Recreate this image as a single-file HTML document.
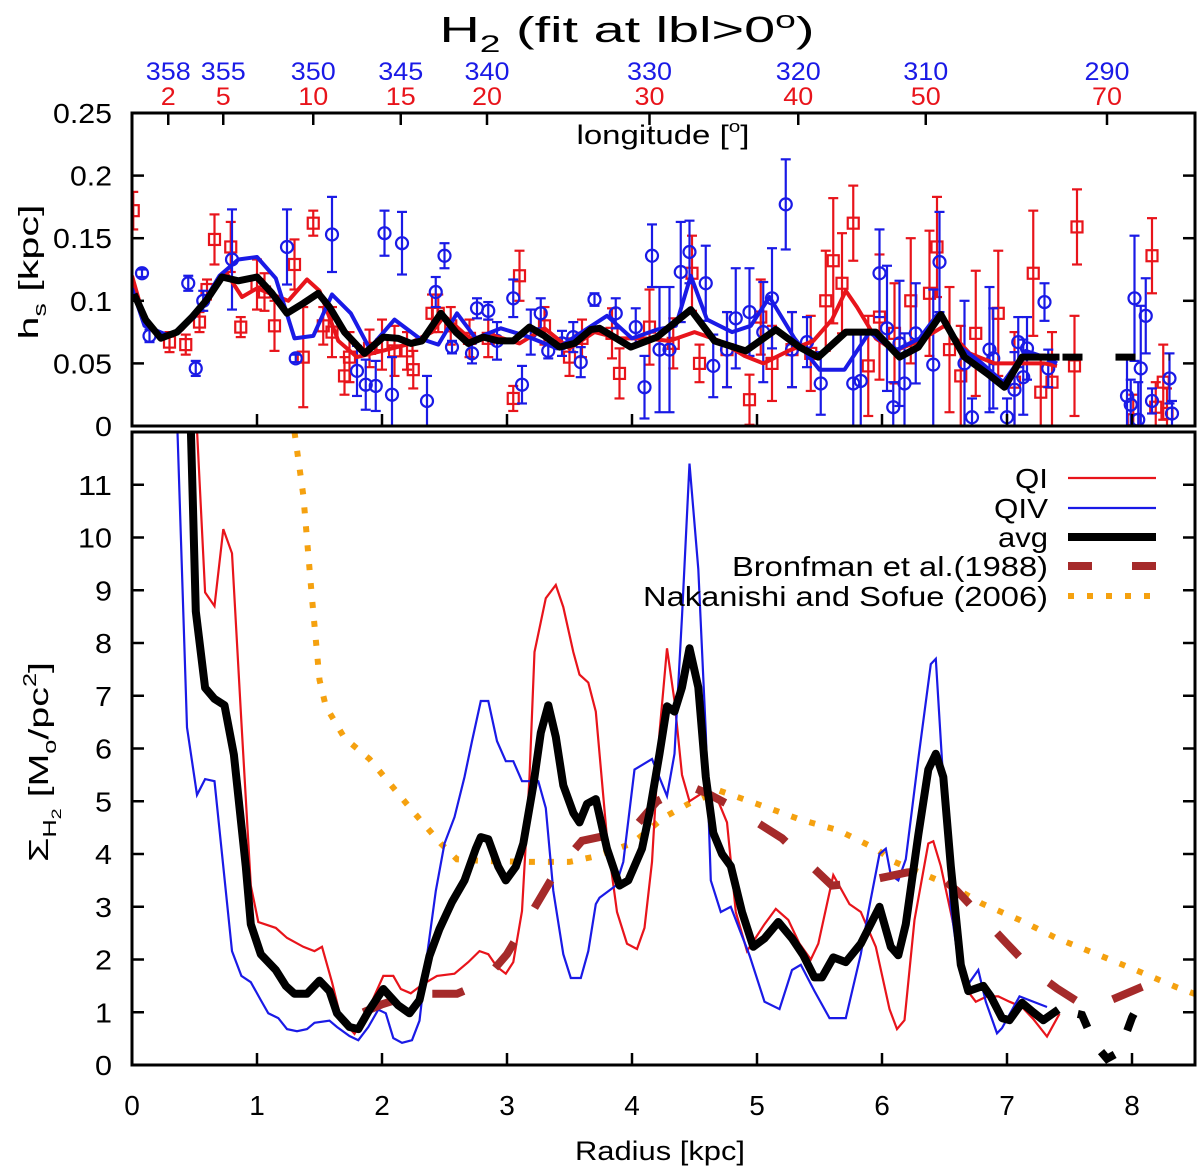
<!DOCTYPE html>
<html><head><meta charset="utf-8"><style>
html,body{margin:0;padding:0;background:#fff;}
svg{display:block;font-family:"Liberation Sans","DejaVu Sans",sans-serif;}
</style></head><body>
<svg id="chart" width="1200" height="1172" viewBox="0 0 1200 1172" xmlns="http://www.w3.org/2000/svg">
<text x="627" y="42" font-size="36" text-anchor="middle" textLength="375" lengthAdjust="spacingAndGlyphs">H<tspan font-size="24" dy="10">2</tspan><tspan dy="-10"> (fit at lbl&gt;0</tspan><tspan font-size="24" dy="-14">o</tspan><tspan dy="14">)</tspan></text>
<text x="663" y="144" font-size="27" text-anchor="middle" textLength="173" lengthAdjust="spacingAndGlyphs">longitude [<tspan font-size="17" dy="-12">o</tspan><tspan dy="12">]</tspan></text>
<text x="660" y="1160" font-size="27" text-anchor="middle" textLength="170" lengthAdjust="spacingAndGlyphs">Radius [kpc]</text>
<text transform="translate(38,272) rotate(-90)" font-size="28" text-anchor="middle" textLength="135" lengthAdjust="spacingAndGlyphs">h<tspan font-size="18" dy="8">s</tspan><tspan dy="-8"> [kpc]</tspan></text>
<text transform="translate(48,762) rotate(-90)" font-size="28" text-anchor="middle" textLength="200" lengthAdjust="spacingAndGlyphs">Σ<tspan font-size="18" dy="8">H</tspan><tspan font-size="14" dy="5">2</tspan><tspan dy="-13"> [M</tspan><tspan font-size="18" dy="8">o</tspan><tspan dy="-8">/pc</tspan><tspan font-size="18" dy="-12">2</tspan><tspan dy="12">]</tspan></text>
<defs>
<clipPath id="clipTop"><rect x="132" y="113" width="1063" height="313"/></clipPath>
<clipPath id="clipBot"><rect x="132" y="432" width="1063" height="633"/></clipPath>
</defs>
<g id="topPanel"></g>
<g id="botPanel"></g>
</svg>
<script>
// ---- data ----
const lonTickR = [0.29, 0.73, 1.45, 2.15, 2.84, 4.14, 5.33, 6.35, 7.8];
const lonBlueLabels = ["358","355","350","345","340","330","320","310","290"];
const lonRedLabels = ["2","5","10","15","20","30","40","50","70"];
const topYTicks = [0, 0.05, 0.1, 0.15, 0.2, 0.25];
const topYLabels = ["0","0.05","0.1","0.15","0.2","0.25"];
const botYTicks = [0,1,2,3,4,5,6,7,8,9,10,11];
const xTicks = [0,1,2,3,4,5,6,7,8];

const redPts = [[0.01,.172,.015],[0.3,.067,.008],[0.43,.065,.008],[0.54,.083,.008],[0.6,.109,.008],[0.66,.149,.02],[0.79,.143,.02],[0.87,.079,.008],[1.0,.113,.02],[1.06,.107,.015],[1.14,.080,.02],[1.3,.129,.02],[1.37,.055,.04],[1.45,.162,.01],[1.53,.080,.015],[1.6,.075,.02],[1.7,.04,.015],[1.74,.055,.02],[1.9,.062,.015],[2.0,.065,.02],[2.1,.06,.02],[2.2,.06,.015],[2.25,.045,.015],[2.4,.09,.015],[2.45,.09,.015],[2.55,.08,.015],[2.7,.07,.015],[2.85,.07,.015],[3.05,.022,.01],[3.1,.12,.02],[3.3,.08,.015],[3.5,.055,.015],[3.6,.07,.015],[3.84,.074,.02],[3.9,.042,.02],[4.14,.079,.03],[4.33,.066,.02],[4.48,.122,.03],[4.54,.05,.015],[4.76,.061,.03],[4.94,.021,.02],[5.03,.087,.03],[5.12,.05,.03],[5.28,.061,.03],[5.43,.058,.03],[5.55,.1,.04],[5.61,.132,.05],[5.68,.114,.04],[5.77,.162,.03],[5.89,.048,.04],[5.98,.087,.05],[6.1,.074,.04],[6.23,.1,.05],[6.38,.106,.05],[6.44,.143,.04],[6.54,.061,.05],[6.63,.04,.04],[6.75,.074,.05],[6.93,.09,.05],[7.06,.035,.04],[7.21,.122,.05],[7.27,.027,.03],[7.36,.035,.04],[7.54,.048,.04],[7.56,.159,.03],[8.01,.005,.02],[8.16,.136,.03],[8.19,.015,.02],[8.25,.035,.03],[8.28,.01,.02]];
const bluePts = [[.08,.122,.003],[.14,.072,.005],[.45,.114,.006],[.51,.046,.006],[.57,.1,.008],[.8,.133,.04],[1.24,.143,.03],[1.31,.054,.003],[1.6,.153,.03],[1.8,.044,.02],[1.87,.033,.02],[1.95,.032,.02],[2.02,.154,.018],[2.08,.025,.03],[2.16,.146,.025],[2.36,.02,.02],[2.43,.107,.012],[2.5,.136,.01],[2.56,.063,.005],[2.72,.058,.008],[2.76,.094,.008],[2.85,.092,.007],[2.92,.068,.015],[3.05,.102,.015],[3.12,.033,.015],[3.19,.075,.018],[3.27,.09,.012],[3.33,.06,.006],[3.44,.066,.01],[3.53,.071,.012],[3.59,.051,.012],[3.7,.101,.005],[3.87,.090,.012],[4.03,.079,.015],[4.1,.031,.025],[4.16,.136,.025],[4.22,.061,.05],[4.3,.061,.05],[4.39,.123,.04],[4.46,.139,.025],[4.59,.114,.03],[4.65,.048,.025],[4.76,.061,.03],[4.83,.086,.04],[4.94,.091,.035],[5.05,.075,.04],[5.12,.102,.04],[5.23,.177,.036],[5.28,.061,.03],[5.4,.067,.02],[5.51,.034,.025],[5.77,.034,.04],[5.83,.036,.04],[5.98,.122,.035],[6.04,.078,.05],[6.09,.015,.02],[6.14,.066,.05],[6.18,.034,.04],[6.27,.074,.04],[6.41,.049,.06],[6.46,.131,.04],[6.66,.05,.05],[6.72,.007,.015],[6.86,.061,.05],[6.89,.054,.04],[7.0,.007,.015],[7.06,.029,.03],[7.09,.067,.02],[7.13,.039,.03],[7.16,.062,.025],[7.3,.099,.015],[7.33,.046,.015],[7.96,.024,.03],[7.99,.017,.02],[8.02,.102,.05],[8.05,.005,.03],[8.07,.046,.05],[8.11,.088,.03],[8.16,.02,.01],[8.3,.038,.02],[8.32,.01,.01]];

const topRedLine = [[0,.12],[0.1,.085],[0.25,.07],[0.4,.077],[0.6,.1],[0.75,.123],[0.88,.103],[1.0,.11],[1.1,.106],[1.25,.10],[1.4,.117],[1.5,.108],[1.65,.068],[1.8,.055],[2.0,.06],[2.2,.065],[2.4,.075],[2.5,.088],[2.7,.07],[2.9,.072],[3.1,.066],[3.3,.078],[3.5,.062],[3.7,.075],[3.9,.07],[4.1,.07],[4.3,.068],[4.5,.075],[4.7,.068],[4.9,.056],[5.05,.05],[5.25,.06],[5.45,.068],[5.6,.085],[5.71,.108],[5.8,.095],[5.95,.07],[6.1,.06],[6.3,.068],[6.5,.08],[6.7,.058],[6.9,.05],[7.1,.05],[7.3,.05],[7.4,.048]];
const topBlueLine = [[0,.11],[0.1,.08],[0.3,.072],[0.5,.087],[0.7,.12],[0.85,.133],[1.0,.135],[1.15,.118],[1.3,.07],[1.45,.072],[1.6,.105],[1.75,.09],[1.9,.062],[2.1,.085],[2.3,.07],[2.45,.065],[2.6,.09],[2.75,.07],[2.95,.078],[3.15,.072],[3.4,.062],[3.6,.075],[3.8,.088],[4.0,.07],[4.2,.077],[4.35,.08],[4.47,.12],[4.6,.085],[4.8,.075],[4.95,.08],[5.1,.103],[5.3,.07],[5.5,.045],[5.7,.045],[5.9,.075],[6.1,.06],[6.3,.07],[6.45,.09],[6.6,.065],[6.8,.05],[6.97,.035],[7.15,.06],[7.3,.055],[7.4,.05]];
const topAvgLine = [[0.017,.1055],[0.11,.0847],[0.23,.0701],[0.36,.075],[0.48,.087],[0.6,.101],[0.72,.119],[0.85,.116],[1.0,.119],[1.12,.106],[1.24,.09],[1.37,.098],[1.49,.106],[1.58,.095],[1.7,.075],[1.86,.058],[2.01,.071],[2.13,.07],[2.23,.066],[2.32,.068],[2.47,.09],[2.59,.075],[2.69,.066],[2.81,.071],[2.93,.068],[3.05,.068],[3.18,.079],[3.3,.072],[3.42,.063],[3.54,.066],[3.67,.077],[3.74,.078],[3.99,.063],[4.2,.071],[4.47,.093],[4.66,.068],[4.91,.060],[5.15,.077],[5.34,.063],[5.49,.055],[5.71,.075],[5.95,.075],[6.14,.055],[6.29,.063],[6.47,.089],[6.66,.055],[6.84,.042],[6.98,.031],[7.12,.055],[7.42,.055]];
const topAvgExt = [[7.42,.055],[8.3,.055]];

const qiR = [0.45,0.51,0.585,0.66,0.73,0.8,0.875,0.95,1.01,1.15,1.24,1.37,1.46,1.52,1.6,1.67,1.78,1.89,2.01,2.09,2.15,2.23,2.32,2.44,2.58,2.69,2.78,2.85,2.92,2.99,3.05,3.12,3.18,3.22,3.31,3.39,3.45,3.53,3.58,3.65,3.71,3.8,3.88,3.96,4.04,4.1,4.16,4.22,4.28,4.34,4.4,4.46,4.57,4.69,4.76,4.83,4.92,5.06,5.15,5.25,5.34,5.43,5.49,5.61,5.74,5.83,5.95,6.06,6.12,6.18,6.26,6.37,6.41,6.47,6.57,6.66,6.75,6.84,6.93,7.02,7.12,7.21,7.32,7.42];
const qiV = [14,12.5,8.96,8.7,10.16,9.7,6.5,3.4,2.71,2.6,2.41,2.24,2.16,2.24,1.57,0.89,0.59,1.05,1.69,1.69,1.44,1.36,1.52,1.69,1.73,1.95,2.16,2.1,1.86,1.73,1.95,2.92,5.46,7.83,8.85,9.1,8.68,7.83,7.4,7.25,6.7,4.3,2.9,2.3,2.2,2.6,3.85,6.3,7.9,6.9,5.5,5.0,5.17,5.0,4.6,2.9,2.16,2.67,2.96,2.75,2.3,2.0,2.3,3.6,3.05,2.9,2.24,1.06,0.68,0.85,2.75,4.2,4.24,3.77,2.67,1.48,1.2,1.3,1.3,1.2,1.1,0.87,0.54,0.97];
const qivR = [0.35,0.44,0.52,0.585,0.66,0.72,0.8,0.875,0.95,1.03,1.09,1.17,1.24,1.32,1.4,1.46,1.58,1.64,1.74,1.81,1.89,1.97,2.03,2.09,2.16,2.24,2.3,2.36,2.43,2.5,2.58,2.66,2.72,2.79,2.85,2.92,2.99,3.05,3.12,3.18,3.25,3.31,3.37,3.45,3.51,3.59,3.65,3.71,3.74,3.87,3.93,4.02,4.16,4.28,4.34,4.4,4.46,4.53,4.59,4.63,4.71,4.79,4.94,5.06,5.18,5.28,5.35,5.46,5.58,5.71,5.83,5.89,5.98,6.03,6.07,6.13,6.19,6.29,6.39,6.43,6.5,6.55,6.62,6.68,6.77,6.83,6.92,6.96,7.1,7.32];
const qivV = [13,6.4,5.12,5.42,5.38,4.0,2.16,1.69,1.57,1.23,0.98,0.89,0.68,0.64,0.68,0.8,0.84,0.72,0.55,0.47,0.72,1.05,0.98,0.51,0.42,0.47,0.84,2.07,3.3,4.2,4.7,5.46,6.14,6.9,6.9,6.14,5.76,5.76,5.38,5.38,5.38,4.87,3.3,2.1,1.65,1.65,2.16,3.05,3.17,3.4,3.85,5.6,5.8,5.1,5.9,8.5,11.4,9.4,6.3,3.5,2.9,3.0,2.08,1.2,1.06,1.8,1.9,1.4,0.89,0.89,2.1,2.9,4.0,4.1,3.6,3.5,3.9,5.8,7.6,7.7,5.0,3.0,1.8,1.5,1.8,1.2,0.6,0.7,1.3,1.1];
const avgR = [0.46,0.51,0.585,0.66,0.74,0.815,0.91,0.95,1.03,1.15,1.23,1.3,1.4,1.5,1.58,1.64,1.74,1.81,1.9,2.01,2.13,2.22,2.3,2.38,2.46,2.56,2.66,2.75,2.79,2.85,2.93,2.99,3.07,3.13,3.21,3.27,3.33,3.39,3.45,3.53,3.58,3.64,3.71,3.8,3.9,3.97,4.08,4.14,4.22,4.28,4.34,4.4,4.46,4.53,4.59,4.65,4.72,4.79,4.88,4.97,5.06,5.17,5.28,5.37,5.46,5.52,5.61,5.71,5.83,5.98,6.07,6.13,6.19,6.29,6.37,6.43,6.49,6.55,6.63,6.69,6.81,6.87,6.96,7.02,7.12,7.21,7.29,7.41];
const avgV = [13,8.6,7.15,6.94,6.82,5.88,3.76,2.67,2.1,1.8,1.5,1.35,1.35,1.6,1.4,0.98,0.72,0.68,1.05,1.44,1.13,0.98,1.23,2.07,2.58,3.09,3.5,4.1,4.32,4.28,3.76,3.5,3.76,4.2,5.3,6.3,6.82,6.22,5.3,4.78,4.6,4.95,5.04,4.1,3.4,3.5,4.1,4.78,5.9,6.8,6.7,7.16,7.9,7.16,5.46,4.4,4.0,3.77,2.9,2.24,2.4,2.71,2.4,2.08,1.66,1.66,2.04,1.95,2.3,3.0,2.24,2.08,2.67,4.36,5.6,5.9,5.46,3.77,1.9,1.4,1.5,1.3,0.89,0.85,1.18,1.0,0.85,1.05];
const avgExtR = [7.41,7.6,7.7,7.8,7.9,8.0,8.1];
const avgExtV = [1.05,0.95,0.4,0.12,0.25,0.9,1.35];
const bronR = [1.85,2.0,2.2,2.4,2.6,2.8,3.0,3.2,3.4,3.6,3.8,4.0,4.2,4.45,4.6,4.8,5.0,5.2,5.4,5.6,5.8,6.0,6.2,6.4,6.6,6.8,7.0,7.2,7.4,7.6,7.7,7.9,8.1];
const bronV = [1.0,1.15,1.3,1.35,1.35,1.55,2.1,2.9,3.7,4.25,4.35,4.45,5.0,5.3,5.15,4.9,4.6,4.3,3.85,3.4,3.45,3.55,3.65,3.7,3.3,2.8,2.3,1.8,1.45,1.15,1.1,1.3,1.5];
const nakR = [1.3,1.37,1.44,1.5,1.55,1.7,1.9,2.05,2.25,2.47,2.6,2.8,3.2,3.5,3.7,4.0,4.26,4.45,4.7,5.0,5.35,5.65,5.95,6.1,6.4,6.55,6.8,7.1,7.4,7.75,8.05,8.35,8.5];
const nakV = [12,10.8,8.85,7.3,6.8,6.2,5.8,5.37,4.8,4.2,3.9,3.87,3.85,3.85,3.95,4.2,4.7,4.95,5.2,4.95,4.65,4.45,4.1,3.85,3.55,3.4,3.06,2.75,2.4,2.07,1.78,1.48,1.35];

// ---- axes ----
const X0=132, XS=125;
const xPos = r => X0 + r*XS;
const yTop = v => 426 - v*1252;
const yBot = v => 1065 - v*52.75;
const NS="http://www.w3.org/2000/svg";
function mk(tag, attrs, parent){const e=document.createElementNS(NS,tag);for(const k in attrs)e.setAttribute(k,attrs[k]);parent.appendChild(e);return e;}
const topPanel=document.getElementById('topPanel');
const botPanel=document.getElementById('botPanel');

function pathFrom(pts, fx, fy){return pts.map((p,i)=>(i?'L':'M')+fx(p[0]).toFixed(1)+' '+fy(p[1]).toFixed(1)).join(' ');}
function zip(a,b){return a.map((r,i)=>[r,b[i]]);}
function tickLen(s){let w=0;for(const c of s)w+=(c==='.'?8:17);return w;}

// top panel marks
const gTopMarks = mk('g',{'clip-path':'url(#clipTop)'},topPanel);


redPts.forEach(p=>{
  const x=xPos(p[0]), y=yTop(p[1]), y1=yTop(p[1]-p[2]), y2=yTop(p[1]+p[2]);
  const g=mk('g',{stroke:'#e8141b','stroke-width':2.2,fill:'none'},gTopMarks);
  
  
  mk('line',{x1:x,x2:x,y1:y1,y2:y2},g);
  mk('line',{x1:x-5,x2:x+5,y1:y1,y2:y1},g);
  mk('line',{x1:x-5,x2:x+5,y1:y2,y2:y2},g);
  mk('rect',{x:x-5.5,y:y-5.5,width:11,height:11},g);
});
bluePts.forEach(p=>{
  const x=xPos(p[0]), y=yTop(p[1]), y1=yTop(p[1]-p[2]), y2=yTop(p[1]+p[2]);
  const g=mk('g',{stroke:'#1a1ae6','stroke-width':2.2,fill:'none'},gTopMarks);
  
  
  mk('line',{x1:x,x2:x,y1:y1,y2:y2},g);
  mk('line',{x1:x-5,x2:x+5,y1:y1,y2:y1},g);
  mk('line',{x1:x-5,x2:x+5,y1:y2,y2:y2},g);
  mk('circle',{cx:x,cy:y,r:6},g);
});
const tr=mk('path',{d:pathFrom(topRedLine,xPos,yTop),stroke:'#e8141b','stroke-width':4,fill:'none','stroke-linejoin':'round'},gTopMarks);


const tbl=mk('path',{d:pathFrom(topBlueLine,xPos,yTop),stroke:'#1a1ae6','stroke-width':4,fill:'none','stroke-linejoin':'round'},gTopMarks);


const ta=mk('path',{d:pathFrom(topAvgLine,xPos,yTop),stroke:'#000','stroke-width':7,fill:'none','stroke-linejoin':'round'},gTopMarks);


const tae=mk('path',{d:pathFrom(topAvgExt,xPos,yTop),stroke:'#000','stroke-width':7,fill:'none','stroke-dasharray':'20 33','stroke-dashoffset':'-3'},gTopMarks);



// top frame and ticks
const tf=mk('rect',{x:132,y:113,width:1063,height:313,fill:'none',stroke:'#000','stroke-width':3},topPanel);


topYTicks.forEach((v,i)=>{
  const y=yTop(v);
  mk('line',{x1:132,x2:144,y1:y,y2:y,stroke:'#000','stroke-width':2.5},topPanel);
  mk('line',{x1:1183,x2:1195,y1:y,y2:y,stroke:'#000','stroke-width':2.5},topPanel);
  const t=mk('text',{x:112,y:y+10,'font-size':28,'text-anchor':'end',textLength:tickLen(topYLabels[i]),lengthAdjust:'spacingAndGlyphs'},topPanel);
  t.textContent=topYLabels[i];
  
  
});
xTicks.forEach(r=>{ if(r>0) mk('line',{x1:xPos(r),x2:xPos(r),y1:426,y2:414,stroke:'#000','stroke-width':2.5},topPanel); });
lonTickR.forEach((r,i)=>{
  const x=xPos(r);
  mk('line',{x1:x,x2:x,y1:113,y2:125,stroke:'#000','stroke-width':2.5},topPanel);
  const lb=mk('text',{x:x,y:80,'font-size':25,'text-anchor':'middle',fill:'#1a1ae6',textLength:lonBlueLabels[i].length*15,lengthAdjust:'spacingAndGlyphs'},topPanel);
  lb.textContent=lonBlueLabels[i];
  
  
  const lr=mk('text',{x:x,y:105,'font-size':25,'text-anchor':'middle',fill:'#e8141b',textLength:lonRedLabels[i].length*15,lengthAdjust:'spacingAndGlyphs'},topPanel);
  lr.textContent=lonRedLabels[i];
  
  
});

// bottom panel
const gBot=mk('g',{'clip-path':'url(#clipBot)'},botPanel);


const nak=mk('path',{d:pathFrom(zip(nakR,nakV),xPos,yBot),stroke:'#f5a10f','stroke-width':6,fill:'none','stroke-dasharray':'6 13'},gBot);


const qi=mk('path',{d:pathFrom(zip(qiR,qiV),xPos,yBot),stroke:'#e8141b','stroke-width':2.2,fill:'none'},gBot);


const qiv=mk('path',{d:pathFrom(zip(qivR,qivV),xPos,yBot),stroke:'#1a1ae6','stroke-width':2.2,fill:'none'},gBot);


const bron=mk('path',{d:pathFrom(zip(bronR,bronV),xPos,yBot),stroke:'#a52a2a','stroke-width':8,fill:'none','stroke-dasharray':'32 40'},gBot);


const avg=mk('path',{d:pathFrom(zip(avgR,avgV),xPos,yBot),stroke:'#000','stroke-width':8,fill:'none','stroke-linejoin':'round'},gBot);


const avgE=mk('path',{d:pathFrom(zip(avgExtR,avgExtV),xPos,yBot),stroke:'#000','stroke-width':8,fill:'none','stroke-dasharray':'18 28','stroke-dashoffset':'-20'},gBot);



const bf=mk('rect',{x:132,y:432,width:1063,height:633,fill:'none',stroke:'#000','stroke-width':3},botPanel);


botYTicks.forEach(v=>{
  const y=yBot(v);
  mk('line',{x1:132,x2:144,y1:y,y2:y,stroke:'#000','stroke-width':2.5},botPanel);
  mk('line',{x1:1183,x2:1195,y1:y,y2:y,stroke:'#000','stroke-width':2.5},botPanel);
  const s=String(v);
  const t=mk('text',{x:112,y:y+10,'font-size':28,'text-anchor':'end',textLength:tickLen(s),lengthAdjust:'spacingAndGlyphs'},botPanel);
  t.textContent=s;
  
  
});
xTicks.forEach(r=>{
  const x=xPos(r);
  if(r>0) mk('line',{x1:x,x2:x,y1:1065,y2:1053,stroke:'#000','stroke-width':2.5},botPanel);
  const t=mk('text',{x:x,y:1115,'font-size':28,'text-anchor':'middle'},botPanel);
  t.textContent=String(r);
  
  
});

// legend
const legLabels=["QI","QIV","avg","Bronfman et al.(1988)","Nakanishi and Sofue (2006)"];
const legWidths=[33,54,50,316,405];
const legStyles=[
 {stroke:'#e8141b','stroke-width':2.2},
 {stroke:'#1a1ae6','stroke-width':2.2},
 {stroke:'#000','stroke-width':8},
 {stroke:'#a52a2a','stroke-width':8,'stroke-dasharray':'24 40'},
 {stroke:'#f5a10f','stroke-width':6,'stroke-dasharray':'6 13'}];
const legY=[478,508,537,566,596];
legLabels.forEach((s,i)=>{
  const g=mk('g',{},botPanel);
  
  
  const t=mk('text',{x:1048,y:legY[i]+10,'font-size':28,'text-anchor':'end',textLength:legWidths[i],lengthAdjust:'spacingAndGlyphs'},g);
  t.textContent=s;
  const a=Object.assign({x1:1068,x2:1156,y1:legY[i],y2:legY[i],fill:'none'},legStyles[i]);
  mk('line',a,g);
});
</script>
</body></html>
